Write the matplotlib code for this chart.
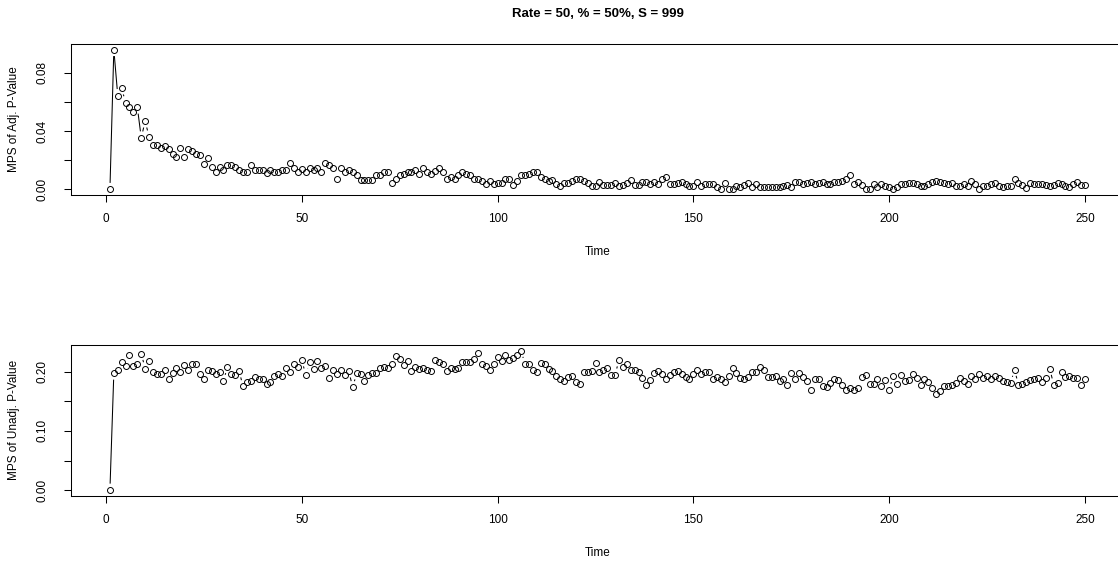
import matplotlib
matplotlib.use("Agg")
import matplotlib.pyplot as plt
import numpy as np
from matplotlib.collections import LineCollection

plt.rcParams["font.family"] = ["Liberation Sans", "DejaVu Sans"]

TITLE = "Rate = 50, % = 50%, S = 999"
X_LABEL = "Time"
Y_LABEL_TOP = "MPS of Adj. P-Value"
Y_LABEL_BOTTOM = "MPS of Unadj. P-Value"

time = np.arange(1, 251)

adj_pvalue = [
    0.0000, 0.0959, 0.0644, 0.0694, 0.0596, 0.0564, 0.0534, 0.0564, 0.0354, 0.0468,
    0.0361, 0.0306, 0.0306, 0.0281, 0.0295, 0.0276, 0.0244, 0.0224, 0.0281, 0.0224,
    0.0276, 0.0262, 0.0244, 0.0233, 0.0176, 0.0215, 0.0153, 0.0119, 0.0153, 0.0132,
    0.0164, 0.0164, 0.0151, 0.0132, 0.0119, 0.0119, 0.0164, 0.0132, 0.0132, 0.0132,
    0.0114, 0.0132, 0.0119, 0.0119, 0.0132, 0.0132, 0.0178, 0.0146, 0.0119, 0.0137,
    0.0119, 0.0146, 0.0132, 0.0146, 0.0119, 0.0178, 0.0164, 0.0146, 0.0068, 0.0146,
    0.0119, 0.0132, 0.0121, 0.0100, 0.0064, 0.0064, 0.0064, 0.0064, 0.0096, 0.0096,
    0.0121, 0.0121, 0.0041, 0.0068, 0.0096, 0.0105, 0.0119, 0.0119, 0.0132, 0.0105,
    0.0146, 0.0119, 0.0105, 0.0123, 0.0146, 0.0119, 0.0068, 0.0082, 0.0068, 0.0100,
    0.0119, 0.0105, 0.0096, 0.0068, 0.0068, 0.0055, 0.0034, 0.0055, 0.0034, 0.0041,
    0.0041, 0.0068, 0.0068, 0.0032, 0.0055, 0.0096, 0.0096, 0.0105, 0.0119, 0.0119,
    0.0087, 0.0068, 0.0055, 0.0064, 0.0034, 0.0023, 0.0041, 0.0041, 0.0055, 0.0068,
    0.0073, 0.0055, 0.0041, 0.0023, 0.0023, 0.0050, 0.0032, 0.0032, 0.0032, 0.0041,
    0.0023, 0.0032, 0.0041, 0.0064, 0.0032, 0.0032, 0.0050, 0.0050, 0.0034, 0.0050,
    0.0034, 0.0068, 0.0087, 0.0034, 0.0034, 0.0046, 0.0050, 0.0034, 0.0023, 0.0023,
    0.0050, 0.0023, 0.0034, 0.0034, 0.0034, 0.0018, 0.0000, 0.0041, 0.0000, 0.0005,
    0.0023, 0.0018, 0.0027, 0.0041, 0.0018, 0.0034, 0.0018, 0.0018, 0.0018, 0.0018,
    0.0018, 0.0018, 0.0023, 0.0032, 0.0018, 0.0050, 0.0050, 0.0034, 0.0041, 0.0050,
    0.0034, 0.0041, 0.0050, 0.0034, 0.0034, 0.0050, 0.0050, 0.0057, 0.0068, 0.0096,
    0.0034, 0.0050, 0.0027, 0.0000, 0.0000, 0.0034, 0.0018, 0.0034, 0.0023, 0.0018,
    0.0000, 0.0018, 0.0034, 0.0034, 0.0041, 0.0041, 0.0034, 0.0023, 0.0023, 0.0034,
    0.0050, 0.0057, 0.0050, 0.0041, 0.0034, 0.0041, 0.0023, 0.0023, 0.0034, 0.0023,
    0.0057, 0.0034, 0.0005, 0.0023, 0.0023, 0.0034, 0.0041, 0.0023, 0.0018, 0.0023,
    0.0023, 0.0068, 0.0046, 0.0027, 0.0011, 0.0041, 0.0034, 0.0034, 0.0034, 0.0027,
    0.0023, 0.0027, 0.0041, 0.0034, 0.0023, 0.0018, 0.0034, 0.0050, 0.0027, 0.0027,
]

unadj_pvalue = [
    0.0000, 0.1976, 0.2032, 0.2161, 0.2104, 0.2279, 0.2104, 0.2128, 0.2306, 0.2054,
    0.2178, 0.1987, 0.1953, 0.1958, 0.2027, 0.1880, 0.1970, 0.2071, 0.1993, 0.2111,
    0.2037, 0.2128, 0.2128, 0.1965, 0.1885, 0.2037, 0.2015, 0.1958, 0.1993, 0.1842,
    0.2082, 0.1958, 0.1948, 0.2010, 0.1751, 0.1830, 0.1842, 0.1919, 0.1875, 0.1875,
    0.1791, 0.1825, 0.1931, 0.1958, 0.1931, 0.2066, 0.1998, 0.2128, 0.2088, 0.2196,
    0.1948, 0.2161, 0.2054, 0.2178, 0.2061, 0.2104, 0.1902, 0.2037, 0.1958, 0.2037,
    0.1937, 0.2010, 0.1734, 0.1976, 0.1958, 0.1842, 0.1942, 0.1976, 0.1976, 0.2066,
    0.2082, 0.2066, 0.2128, 0.2273, 0.2222, 0.2116, 0.2189, 0.2010, 0.2088, 0.2054,
    0.2071, 0.2037, 0.2004, 0.2196, 0.2161, 0.2128, 0.2010, 0.2071, 0.2049, 0.2066,
    0.2161, 0.2161, 0.2161, 0.2217, 0.2324, 0.2138, 0.2099, 0.2037, 0.2133, 0.2256,
    0.2189, 0.2290, 0.2196, 0.2234, 0.2290, 0.2357, 0.2128, 0.2128, 0.2032, 0.1993,
    0.2145, 0.2133, 0.2054, 0.2010, 0.1936, 0.1880, 0.1842, 0.1919, 0.1936, 0.1830,
    0.1791, 0.1993, 0.1993, 0.2010, 0.2145, 0.1987, 0.2021, 0.2066, 0.1948, 0.1948,
    0.2196, 0.2082, 0.2138, 0.2037, 0.2037, 0.1993, 0.1902, 0.1780, 0.1859, 0.1976,
    0.2010, 0.1965, 0.1869, 0.1948, 0.1993, 0.2010, 0.1965, 0.1919, 0.1885, 0.1965,
    0.2037, 0.1965, 0.1993, 0.1993, 0.1869, 0.1919, 0.1869, 0.1825, 0.1931, 0.2066,
    0.1976, 0.1902, 0.1869, 0.1919, 0.1993, 0.1993, 0.2082, 0.2021, 0.1919, 0.1919,
    0.1936, 0.1842, 0.1875, 0.1780, 0.1976, 0.1869, 0.1976, 0.1919, 0.1842, 0.1690,
    0.1869, 0.1869, 0.1751, 0.1734, 0.1808, 0.1869, 0.1859, 0.1768, 0.1690, 0.1717,
    0.1690, 0.1717, 0.1914, 0.1948, 0.1796, 0.1796, 0.1869, 0.1751, 0.1859, 0.1690,
    0.1931, 0.1796, 0.1948, 0.1842, 0.1859, 0.1960, 0.1902, 0.1780, 0.1869, 0.1825,
    0.1717, 0.1628, 0.1673, 0.1751, 0.1751, 0.1780, 0.1808, 0.1902, 0.1842, 0.1796,
    0.1931, 0.1869, 0.1958, 0.1902, 0.1931, 0.1885, 0.1931, 0.1902, 0.1842, 0.1825,
    0.1808, 0.2037, 0.1780, 0.1796, 0.1825, 0.1859, 0.1885, 0.1902, 0.1825, 0.1902,
    0.2054, 0.1780, 0.1808, 0.1993, 0.1914, 0.1931, 0.1902, 0.1902, 0.1780, 0.1885,
]

x_ticks = [0, 50, 100, 150, 200, 250]
top_yticks = [0.00, 0.02, 0.04, 0.06, 0.08]
top_ylabels = ["0.00", "", "0.04", "", "0.08"]
bottom_yticks = [0.00, 0.05, 0.10, 0.15, 0.20]
bottom_ylabels = ["0.00", "", "0.10", "", "0.20"]

W, H = 1118, 569
FS = 8.5


def r_range(values):
    lo, hi = min(values), max(values)
    pad = 0.04 * (hi - lo)
    return lo - pad, hi + pad


def plot_type_b(ax, x, y, gap_px=6.5):
    """R's type='b': points plus line pieces that stop short of each point."""
    pts = ax.transData.transform(np.column_stack([x, y]))
    segs = []
    for p, q in zip(pts[:-1], pts[1:]):
        d = q - p
        length = np.hypot(d[0], d[1])
        if length <= 2 * gap_px:
            continue
        u = d / length
        segs.append(np.array([p + u * gap_px, q - u * gap_px]))
    inv = ax.transData.inverted()
    segs = [inv.transform(s) for s in segs]
    ax.add_collection(LineCollection(segs, colors="black", linewidths=0.75))
    ax.plot(x, y, linestyle="none", marker="o", markersize=4.3,
            markerfacecolor="none", markeredgecolor="black", markeredgewidth=0.7)


def style_axes(ax, yticks, ylabels, ylabel):
    ax.set_xticks(x_ticks)
    ax.set_xticklabels([str(v) for v in x_ticks], fontsize=FS)
    ax.set_yticks(yticks)
    ax.set_yticklabels(ylabels, fontsize=FS, rotation=90, va="center")
    ax.tick_params(direction="out", length=5, width=0.75, color="black")
    ax.tick_params(axis="x", pad=8)
    ax.tick_params(axis="y", pad=11)
    for side in ["top", "bottom", "left", "right"]:
        ax.spines[side].set_linewidth(0.75)
        ax.spines[side].set_color("black")
    ax.set_xlabel(X_LABEL, fontsize=FS, labelpad=15)
    ax.set_ylabel(ylabel, fontsize=FS, labelpad=12)


fig = plt.figure(figsize=(W / 100, H / 100), dpi=100)
x_lo, x_hi = r_range(time)
px_per_unit = 3.916
left_px = 106 + px_per_unit * x_lo
right_px = 106 + px_per_unit * x_hi

ax1 = fig.add_axes([left_px / W, (H - 195) / H, (right_px - left_px) / W, 151 / H])
ax2 = fig.add_axes([left_px / W, (H - 495.7) / H, (right_px - left_px) / W, 150.7 / H])

for ax, vals in [(ax1, adj_pvalue), (ax2, unadj_pvalue)]:
    ax.set_xlim(x_lo, x_hi)
    ax.set_ylim(*r_range(vals))

plot_type_b(ax1, time, adj_pvalue)
plot_type_b(ax2, time, unadj_pvalue)

style_axes(ax1, top_yticks, top_ylabels, Y_LABEL_TOP)
style_axes(ax2, bottom_yticks, bottom_ylabels, Y_LABEL_BOTTOM)

fig.text(597.5 / W, 1 - 14 / H, TITLE, fontsize=9.5, fontweight="bold",
         ha="center", va="center")

fig.savefig("out.png", dpi=100)
